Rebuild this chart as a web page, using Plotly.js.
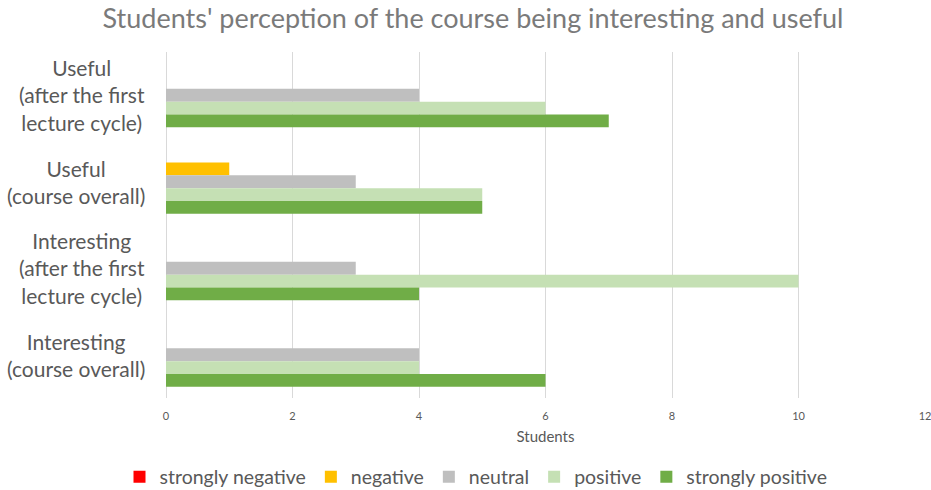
<!DOCTYPE html>
<html>
<head>
<meta charset="utf-8">
<script src="https://cdn.plot.ly/plotly-3.0.1.min.js"></script>
<style>html,body{margin:0;padding:0;background:#fff;}#chart{width:931px;height:490px;}</style>
</head>
<body>
<div id="chart"></div>
<script>
// Categories, top to bottom
const categories = [
  "Useful (after the first lecture cycle)",
  "Useful (course overall)",
  "Interesting (after the first lecture cycle)",
  "Interesting (course overall)"
];
const categoryLabels = [
  "Useful<br>(after the first<br>lecture cycle)",
  "Useful<br>(course overall)",
  "Interesting<br>(after the first<br>lecture cycle)",
  "Interesting<br>(course overall)"
];
const seriesNames = ["strongly negative", "negative", "neutral", "positive", "strongly positive"];
const stronglyNegative = [0, 0, 0, 0];
const negative        = [0, 1, 0, 0];
const neutral         = [4, 3, 3, 4];
const positive        = [6, 5, 10, 4];
const stronglyPositive = [7, 5, 4, 6];
const xTicks = [0, 2, 4, 6, 8, 10, 12];

const seriesValues = [stronglyNegative, negative, neutral, positive, stronglyPositive];
const colors = ["#FF0000", "#FFC000", "#BFBFBF", "#C5E0B4", "#70AD47"];
const font = "Lato, 'Open Sans', sans-serif";
const textColor = "#595959";

const data = seriesNames.map((name, i) => ({
  type: "bar",
  orientation: "h",
  name: name,
  y: categories,
  x: seriesValues[i],
  marker: {color: colors[i], line: {width: 0}},
  hoverinfo: "x+name"
}));

const annotations = categories.map((c, i) => ({
  xref: "paper", yref: "y",
  x: -19 / 760, y: c,
  xanchor: "right", yanchor: "middle",
  align: "center",
  showarrow: false,
  text: categoryLabels[i],
  font: {family: font, size: 21, color: textColor}
}));

const layout = {
  width: 931, height: 490,
  margin: {l: 166, r: 6, t: 52, b: 92},
  paper_bgcolor: "#fff", plot_bgcolor: "#fff",
  barmode: "group",
  bargap: 0.26,
  bargroupgap: 0,
  font: {family: font, color: textColor},
  title: {
    text: "Students' perception of the course being interesting and useful",
    font: {family: font, size: 27, color: "#7A7A7A"},
    x: 473 / 931, xref: "container", xanchor: "center",
    y: 1 - 19 / 490, yref: "container", yanchor: "middle"
  },
  xaxis: {
    range: [0, 12],
    tickvals: xTicks,
    ticktext: xTicks.map(String),
    showgrid: true, gridcolor: "#D9D9D9", gridwidth: 1,
    zeroline: true, zerolinecolor: "#D9D9D9", zerolinewidth: 1,
    showline: false, ticks: "",
    ticklabelstandoff: 10,
    ticklabeloverflow: "allow",
    tickfont: {family: font, size: 11, color: textColor},
    title: {text: "Students", font: {family: font, size: 15, color: textColor}, standoff: 10},
    fixedrange: true
  },
  yaxis: {
    type: "category",
    categoryorder: "array", categoryarray: categories,
    autorange: "reversed",
    showticklabels: false, showgrid: false, zeroline: false, showline: false, ticks: "",
    fixedrange: true
  },
  showlegend: true,
  legend: {
    orientation: "h",
    xref: "container", yref: "container",
    x: 476 / 931, xanchor: "center",
    y: 13 / 490, yanchor: "middle",
    font: {family: font, size: 19.5, color: textColor},
    itemwidth: 30,
    traceorder: "normal"
  },
  annotations: annotations
};

Plotly.newPlot("chart", data, layout, {displayModeBar: false, staticPlot: true});
</script>
</body>
</html>
